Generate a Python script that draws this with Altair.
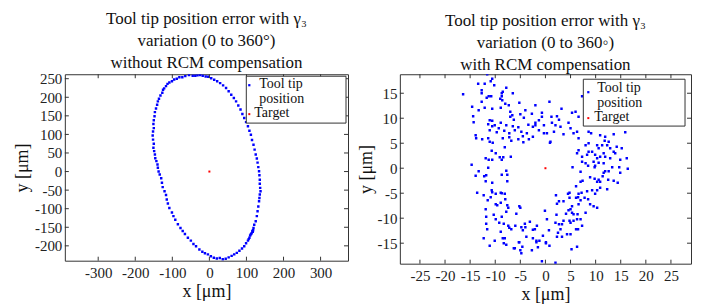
import altair as alt
import pandas as pd

# ---------------- data ----------------
left_x = [-45, -55, -65, -73, -81, -88, -95, -101, -108, -113, -117, -122, -125, -127, -132, -136,
          -139, -141, -144, -147, -148, -150, -151, -150, -152, -153, -152, -150, -151, -149, -147, -146,
          -143, -140, -139, -137, -134, -130, -128, -126, -121, -117, -115, -112, -108, -101, -97, -92,
          -85, -78, -72, -66, -58, -50, -43, -36, -27, -19, -12, -4, 4, 12, 20, 28, 36, 44, 52, 60, 67,
          74, 81, 88, 94, 99, 104, 108, 112, 116, 119, 121, 125, 128, 130, 132, 134, 135, 136, 138, 137,
          136, 136, 135, 134, 132, 130, 128, 125, 122, 119, 115, 112, 108, 104, 99, 94, 89, 84, 78, 72,
          66, 59, 52, 45, 37, 29, 21, 13, 5, -3, -10, -18, -25, -32, -38,
          114, 117, 110, 118, 106]
left_y = [258, 260, 257, 254, 254, 250, 248, 243, 240, 236, 230, 224, 220, 212, 205, 196,
          189, 180, 170, 160, 149, 138, 128, 117, 108, 97, 86, 75, 64, 55, 46, 36,
          28, 19, 10, 0, -8, -18, -30, -42, -53, -63, -75, -86, -98, -110, -120, -130,
          -142, -152, -160, -168, -178, -186, -195, -201, -210, -216, -220, -223, -228, -232, -234, -233, -236, -235, -231, -227, -223,
          -219, -213, -207, -201, -193, -186, -178, -169, -160, -152, -143, -134, -120, -107, -94, -80, -71, -62, -53, -44,
          -33, -22, -10, 1, 12, 24, 35, 46, 59, 72, 85, 99, 110, 122, 133, 144, 155, 167, 178, 189,
          198, 207, 216, 225, 232, 238, 243, 247, 251, 255, 256, 258, 260, 259, 258,
          -166, -162, -172, -158, -182]

right_x = [
    -11.6, -10.6, -10.9, -13.4, -12.1, -10.2, -16.4, -12.7, -12.7, -11.3, -10.8, -11.7, -8.7, -8.5, -7.8, -8.7,
    -9.0, -6.5, -12.7, -8.6, -8.0, -10.6, -12.1, -14.6, -13.3, -8.9, -7.3, -5.2, -4.0, -2.0, -7.0, -6.6,
    -7.0, -6.3, -5.0, -4.3, -2.7, -0.7, -0.7, -1.3, -2.0, -3.4, -2.5, -2.0, -1.3, -0.3, -0.3, -11.1,
    -10.6, -11.4, -10.6, -10.1, -9.3, -9.7, -8.2, -7.2, -6.1, -5.4, -4.8, -4.5, -3.7, -8.9, -7.8, -6.5,
    -13.9, -13.8, -12.6, -11.4, -11.1, -10.5, -8.5, -7.2, -6.8, -5.4, -4.4, -3.3, -2.5, 0.9, -8.1, -10.7,
    -9.9, -11.9, -11.3, -10.6, -9.1, -8.7, -8.4, -6.9, -14.7, -14.3, -14.4, -11.1,
    0.8, 3.2, 5.3, 6.0, 6.6, 1.2, 2.3, 2.7, 3.0, 2.0, 1.3, 4.6, 5.0, 0.3, 1.0, 1.7,
    3.6, 5.6, 6.3, 6.6, 7.3, 8.6, 9.1, 10.9, 11.9, 13.6, 15.9, 8.6, 8.0, 10.3, 10.6, 11.3,
    12.3, 11.8, 12.6, 12.9, 13.6, 14.2, 15.2, 16.2, 6.6, 6.3, 7.3, 8.3, 8.6, 9.3, 9.9, 10.3,
    10.9, 11.6, 11.9, 12.9, 13.9, 14.9, 9.6, 10.6, 11.6, 8.0, 7.3, 9.9,
    5.4, 8.5, 9.8, 13.3, 14.7, 16.4, 7.0, 8.9, 9.8, 10.6, 10.3, 10.9, 11.4, 11.9, 12.6, 11.6,
    12.5, 13.6, 14.9, 14.4, 12.3, 10.9, 10.3, 9.9, 9.3, 8.3, 7.4, 7.0, 6.1, 6.5, 6.6, 7.2,
    7.8, 8.5, 4.8, 4.5, 4.8, 6.1, 7.0, 3.6, 2.7, 2.1, 2.3, 5.3, 6.6, 9.6, 10.3, 8.9,
    8.0, 6.4, 5.6, 4.6, 5.0, 5.3, 4.1, 2.2, 2.0, 2.7, 3.3, 3.0, 3.6, 5.0, 5.6, 6.3,
    7.0, 4.8, 7.3, 6.1, 6.5, 2.5, 2.3, 3.3, 4.3, 5.0, 0.3, 0.7, 0.1, 0.8, 5.2, 6.3, 2.0,
    -13.3, -13.9, -11.4, -11.8, -12.2, -11.9, -10.6, -8.7, -7.8, -7.6, -7.6, -13.6, -12.3, -11.5, -10.9, -10.7,
    -10.6, -9.9, -8.9, -8.7, -8.1, -8.0, -11.9, -9.9, -9.6, -8.9, -7.6, -7.4, -7.8, -8.7, -10.3, -11.8,
    -9.9, -11.8, -9.2, -8.3, -7.4, -7.2, -6.8, -6.0, -5.8, -5.2, -5.0, -4.8, -4.5, -4.0, -4.1, -3.1,
    -2.5, -2.1, -1.7, -0.1, -11.6, -12.3, -11.1, -10.1, -8.9, -8.5, -8.1, -8.3, -7.8, -6.3, -6.1, -5.3,
    -5.2, -5.0, -4.6, -4.8, -3.8, -2.7, -2.5, -1.8, -1.8, -1.2, -1.5, -0.5, 0.1, -0.7]
right_y = [
    18.8, 17.9, 17.4, 16.9, 16.9, 16.6, 14.8, 15.6, 15.0, 14.4, 14.4, 14.1, 15.0, 15.3, 16.1, 14.4,
    13.9, 15.0, 13.3, 13.6, 12.9, 11.9, 12.1, 12.3, 11.6, 12.1, 12.6, 13.1, 11.6, 12.6, 11.3, 10.6,
    10.3, 9.7, 10.8, 10.1, 10.9, 11.1, 10.3, 9.6, 9.1, 8.7, 8.3, 8.6, 7.6, 8.6, 7.0, 9.6,
    9.5, 8.8, 8.4, 8.6, 8.0, 7.2, 7.5, 7.0, 7.6, 8.2, 7.3, 6.4, 7.0, 9.1, 8.6, 8.4,
    6.6, 6.0, 5.8, 6.0, 5.3, 5.1, 6.0, 6.2, 5.5, 5.8, 5.2, 5.8, 6.3, 5.1, 4.2, 3.5,
    3.0, 2.0, 1.7, 1.7, 2.2, 1.7, 2.2, 2.3, 0.7, 9.2, 10.4, 7.6,
    13.3, 11.9, 11.1, 11.3, 10.3, 10.3, 10.4, 9.7, 8.3, 8.6, 9.1, 9.1, 8.0, 7.0, 5.3, 7.3,
    6.8, 7.0, 7.3, 6.0, 14.4, 7.3, 7.0, 6.6, 6.3, 6.8, 7.2, 5.0, 4.6, 4.6, 4.0, 4.6,
    4.6, 5.5, 5.3, 4.0, 3.3, 4.3, 4.0, 2.0, 3.6, 3.0, 2.3, 2.7, 3.3, 3.3, 2.7, 2.0,
    2.3, 3.0, 2.3, 2.0, 3.0, 1.7, 1.3, 1.1, 1.0, 1.0, 1.3, 0.5,
    0.2, 0.5, 0.2, 0.2, 0.2, -0.1, -0.7, -1.8, -2.1, -2.3, -2.7, -2.7, -1.6, -0.6, -0.6, -0.9,
    -2.3, -2.5, -0.9, -2.9, -4.2, -3.9, -4.4, -5.1, -4.4, -4.6, -2.5, -2.7, -3.6, -5.8, -5.1, -4.9,
    -5.9, -6.2, -4.9, -5.1, -5.9, -5.9, -6.4, -6.6, -6.6, -5.4, -7.1, -7.6, -7.2, -7.6, -7.9, -7.2,
    -8.9, -9.2, -9.2, -8.4, -8.2, -8.9, -9.1, -9.3, -10.9, -11.2, -11.2, -12.2, -10.5, -10.9, -10.5, -10.2,
    -10.2, -10.5, -11.5, -12.2, -12.2, -12.9, -13.7, -13.7, -13.2, -13.2, -10.2, -12.4, -14.8, -15.5, -16.2, -15.7, -18.9,
    -0.6, -1.5, 0.1, -1.4, -1.6, -2.6, -2.9, -1.3, -0.5, -1.3, -2.6, -4.9, -5.4, -6.4, -5.8, -4.4,
    -4.8, -5.1, -4.9, -5.0, -5.1, -6.2, -8.2, -7.2, -7.4, -6.9, -7.4, -7.9, -8.7, -9.7, -9.3, -9.7,
    -10.2, -11.1, -10.9, -11.1, -11.5, -11.9, -12.2, -11.5, -9.1, -7.6, -7.9, -11.8, -12.4, -11.8, -11.1, -10.7,
    -12.3, -12.2, -11.5, -8.5, -12.2, -14.0, -15.5, -14.5, -12.7, -14.0, -14.0, -15.0, -15.3, -16.0, -16.0, -14.8,
    -14.8, -16.4, -15.7, -17.0, -13.7, -16.4, -14.0, -14.8, -14.5, -14.5, -15.8, -13.5, -15.0, -18.6]

target_x = [0]
target_y = [0]

left_xticks = [-300, -200, -100, 0, 100, 200, 300]
left_yticks = [-200, -150, -100, -50, 0, 50, 100, 150, 200, 250]
right_xticks = [-25, -20, -15, -10, -5, 0, 5, 10, 15, 20, 25]
right_yticks = [-15, -10, -5, 0, 5, 10, 15]

left_title = ["Tool tip position error with γ₃", "variation (0 to 360°)", "without RCM compensation"]
right_title = ["Tool tip position error with γ₃", "variation (0 to 360◦)", "with RCM compensation"]
x_label = "x [μm]"
y_label = "y [μm]"
legend_labels = ["Tool tip", "position", "Target"]

FONT = "Liberation Serif"
LABEL_EXPR = "datum.value < 0 ? '-' + format(-datum.value, 'd') : format(datum.value, 'd')"
AX = dict(labelFont=FONT, labelFontSize=15, labelColor="#222", titleFont=FONT,
          titleFontSize=18, titleFontWeight="normal", titleColor="#111",
          domain=False, ticks=False, grid=False, labelExpr=LABEL_EXPR, labelOverlap=False)


def panel(px, py, xdom, ydom, xt, yt, w, h, title, ytitle_x, box, lg):
    xs = alt.Scale(domain=xdom, nice=False, zero=False)
    ys = alt.Scale(domain=ydom, nice=False, zero=False)
    xaxis = alt.Axis(values=xt, title=x_label, labelPadding=5, titlePadding=2, **AX)
    yaxis = alt.Axis(values=yt, title=y_label, labelPadding=3,
                     titleX=ytitle_x, titleY=h / 2, titleAngle=270, titleBaseline="bottom", **AX)
    X = lambda: alt.X("x:Q", scale=xs, axis=xaxis)
    Y = lambda: alt.Y("y:Q", scale=ys, axis=yaxis)

    pts = alt.Chart(pd.DataFrame({"x": px, "y": py})).mark_square(
        size=6, color="#0000ff", opacity=1, clip=True).encode(x=X(), y=Y())
    tgt = alt.Chart(pd.DataFrame({"x": target_x, "y": target_y})).mark_square(
        size=4, color="#ff0000", opacity=1).encode(x=X(), y=Y())

    txd = pd.DataFrame({"x": xt})
    tyd = pd.DataFrame({"y": yt})
    tick_bottom = alt.Chart(txd).mark_rule(color="#333", strokeWidth=1).encode(
        x=X(), y=alt.value(h), y2=alt.value(h - 4))
    tick_top = alt.Chart(txd).mark_rule(color="#333", strokeWidth=1).encode(
        x=X(), y=alt.value(0), y2=alt.value(4))
    tick_left = alt.Chart(tyd).mark_rule(color="#333", strokeWidth=1).encode(
        y=Y(), x=alt.value(0), x2=alt.value(4))
    tick_right = alt.Chart(tyd).mark_rule(color="#333", strokeWidth=1).encode(
        y=Y(), x=alt.value(w), x2=alt.value(w - 4))

    one = pd.DataFrame({"a": [0]})
    bx0, bx1, by0, by1 = box
    rect = alt.Chart(one).mark_rect(fill="white", stroke="#333", strokeWidth=1).encode(
        x=alt.value(bx0), x2=alt.value(bx1), y=alt.value(by0), y2=alt.value(by1))
    (dbx, dby), (tx1, ty1), (tx2, ty2), (drx, dry), (tx3, ty3) = lg
    dot_b = alt.Chart(one).mark_square(size=5, color="#0000ff", opacity=1).encode(
        x=alt.value(dbx), y=alt.value(dby))
    dot_r = alt.Chart(one).mark_square(size=4, color="#ff0000", opacity=1).encode(
        x=alt.value(drx), y=alt.value(dry))
    texts = []
    for lab, (tx, ty) in zip(legend_labels, [(tx1, ty1), (tx2, ty2), (tx3, ty3)]):
        texts.append(alt.Chart(one).mark_text(align="left", baseline="middle", font=FONT,
                                              fontSize=14, color="#111").encode(
            x=alt.value(tx), y=alt.value(ty), text=alt.value(lab)))

    return alt.layer(pts, tgt, tick_bottom, tick_top, tick_left, tick_right,
                     rect, dot_b, dot_r, *texts).properties(
        width=w, height=h,
        title=alt.TitleParams(text=title, font=FONT, fontSize=17, fontWeight="normal",
                              lineHeight=22, anchor="middle", offset=0, color="#111"))


left = panel(left_x, left_y, [-390, 374], [-240, 262], left_xticks, left_yticks, 284, 187,
             left_title, -33, (182, 282, 2, 49),
             [(185, 11), (195, 10), (195, 24.5), (185, 40), (190, 39)])
right = panel(right_x, right_y, [-29, 29], [-19.1, 18.8], right_xticks, right_yticks, 292, 190,
              right_title, -24, (184, 286, 5, 52),
              [(189, 18), (198, 14), (198, 28.5), (189, 44), (195, 43)])

chart = alt.hconcat(left, right, spacing=8).properties(
    padding={"left": 5, "top": 0, "right": 2, "bottom": 0}
).configure_view(stroke="#333", strokeWidth=1)

chart.save("out.html", embed_options={"renderer": "svg", "actions": False})
